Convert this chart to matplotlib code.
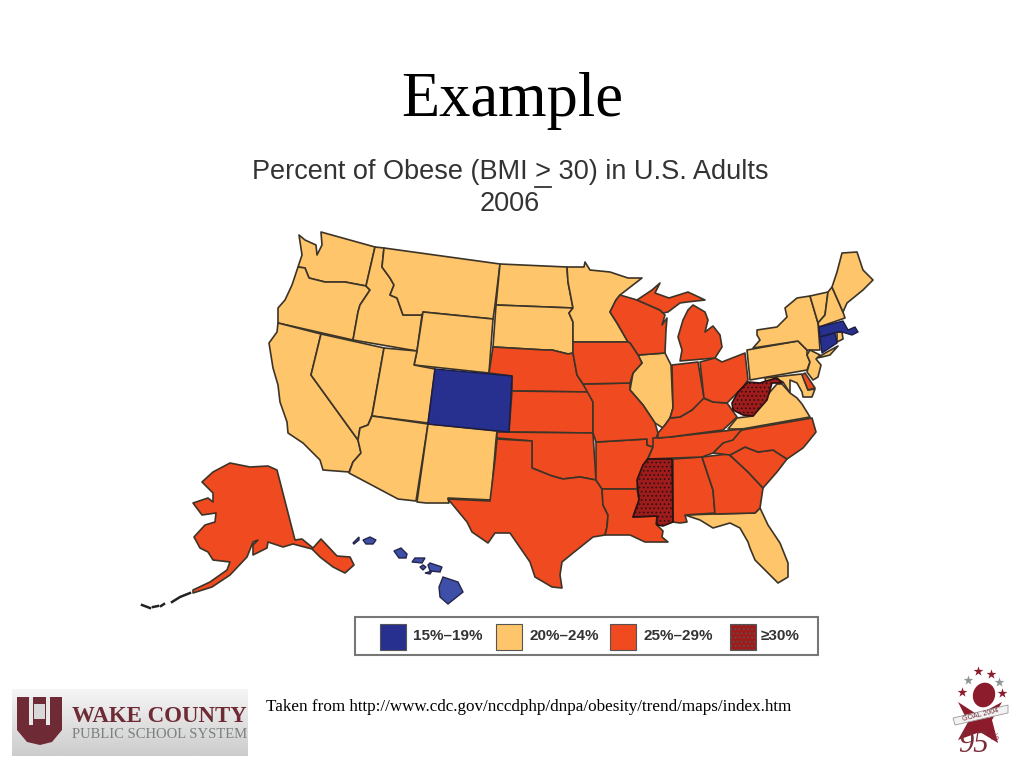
#!/usr/bin/env python3


import numpy as np
import matplotlib
matplotlib.use('Agg')
import matplotlib.pyplot as plt
from matplotlib.patches import Polygon, Rectangle, Ellipse

plt.rcParams['hatch.linewidth'] = 0.7

# state outlines
WA = [(299,235),(305,240),(316,245),(317,255),(322,245),(321,232),(375,247),(366,286),(345,282),(325,282),(309,278),(305,268),(298,267),(302,255)]
OR = [(298,267),(305,268),(309,278),(325,282),(345,282),(366,286),(370,290),(360,305),(358,312),(353,340),(278,323),(278,308),(285,300),(292,285)]
CA = [(278,323),(321,334),(311,375),(358,440),(361,453),(353,462),(349,472),(323,470),(320,460),(303,443),(288,433),(287,422),(280,402),(278,385),(273,368),(269,343),(277,332)]
NV = [(321,334),(384,348),(372,415),(368,425),(360,428),(358,440),(311,375)]
ID = [(375,247),(384,248),(382,267),(390,278),(394,285),(390,295),(397,298),(403,315),(422,315),(417,351),(353,340),(358,312),(360,305),(370,290),(366,286)]
MT = [(384,248),(500,264),(495,305),(493,319),(423,312),(422,315),(403,315),(397,298),(390,295),(394,285),(390,278),(382,267)]
WY = [(423,312),(493,319),(489,373),(414,365),(417,351)]
UT = [(384,348),(417,351),(414,365),(435,369),(428,423),(372,416)]
CO = [(435,369),(512,376),(509,432),(428,424)]
AZ = [(372,416),(428,424),(416,501),(398,499),(349,473),(353,462),(361,453),(358,440),(360,428),(368,425)]
NM = [(428,424),(497,431),(496,440),(491,500),(448,498),(449,503),(426,503),(417,502)]
ND = [(500,264),(567,267),(568,282),(573,308),(496,305)]
SD = [(496,305),(573,308),(569,313),(573,322),(573,353),(568,354),(552,350),(545,350),(493,347)]
MN = [(567,267),(584,267),(585,262),(590,270),(610,272),(628,278),(642,278),(620,295),(616,300),(610,312),(617,323),(628,342),(573,342),(573,322),(569,313),(573,308),(568,282)]
WI = [(620,295),(637,300),(660,310),(665,315),(662,325),(667,318),(666,330),(665,353),(638,355),(630,343),(628,342),(617,323),(610,312),(616,300)]
MI_UP = [(637,300),(652,290),(660,283),(655,293),(669,298),(688,292),(705,300),(687,302),(680,303),(668,312),(663,313),(660,310)]
MI_LP = [(693,305),(705,312),(708,320),(705,332),(713,326),(720,335),(722,347),(715,358),(680,361),(682,350),(678,337),(683,320),(688,310)]
IL = [(638,355),(665,353),(671,365),(673,408),(670,418),(663,428),(655,423),(643,405),(630,390),(633,373),(642,363)]
IA = [(573,342),(628,342),(630,343),(638,355),(642,363),(633,373),(630,383),(583,384),(577,375),(573,353)]
NE = [(493,347),(545,350),(552,350),(568,354),(573,353),(577,375),(583,384),(589,392),(512,391),(512,376),(489,373)]
KS = [(512,391),(589,392),(593,402),(593,433),(509,432)]
OK = [(497,432),(593,433),(596,480),(580,477),(563,479),(552,476),(532,468),(532,441),(497,438)]
TX = [(497,439),(532,441),(532,468),(552,476),(563,479),(580,477),(596,480),(602,489),(603,505),(608,515),(607,527),(605,535),(593,537),(573,553),(562,562),(560,575),(562,588),(552,587),(535,577),(530,562),(510,533),(495,533),(488,543),(472,532),(467,522),(448,499),(490,501),(495,460)]
AR = [(596,442),(647,439),(647,445),(653,447),(648,458),(643,465),(638,478),(637,489),(602,489),(596,480)]
MO = [(583,384),(630,383),(630,390),(643,405),(655,423),(658,433),(653,447),(647,445),(647,439),(596,442),(593,433),(593,402)]
LA = [(602,489),(637,489),(639,500),(633,517),(657,516),(656,524),(663,531),(662,537),(668,542),(662,542),(653,542),(645,542),(630,535),(620,535),(605,535),(607,527),(608,515),(603,505)]
MS = [(648,459),(672,459),(673,522),(663,526),(657,525),(657,516),(633,517),(639,500),(637,480),(643,465)]
AL = [(673,459),(702,457),(713,490),(715,513),(685,515),(687,522),(680,523),(673,522)]
GA = [(702,457),(728,454),(733,458),(748,472),(763,488),(760,508),(755,513),(715,514),(713,490)]
FL = [(685,515),(715,514),(755,513),(760,508),(768,525),(780,543),(788,563),(788,577),(778,583),(768,573),(755,560),(750,548),(748,542),(740,528),(730,523),(713,528),(700,520)]
SC = [(730,455),(745,447),(758,452),(773,450),(787,459),(777,472),(763,488),(748,472),(733,458)]
NC = [(742,430),(812,418),(816,432),(808,442),(803,448),(787,459),(773,450),(758,452),(745,447),(730,455),(713,453),(723,443)]
TN = [(653,438),(670,437),(742,429),(733,440),(723,443),(713,453),(702,457),(648,459),(653,447)]
KY = [(658,433),(665,425),(670,418),(680,417),(692,410),(703,398),(713,402),(727,403),(732,410),(737,417),(723,430),(670,437),(658,438)]
IN = [(672,365),(698,362),(704,398),(692,410),(680,417),(670,418),(673,408)]
OH = [(700,362),(715,358),(722,362),(745,353),(748,380),(743,387),(733,397),(727,403),(713,402),(704,398)]
PA = [(747,350),(798,341),(807,350),(807,355),(810,362),(807,370),(750,380)]
NY = [(757,330),(777,327),(787,317),(785,308),(797,298),(810,296),(818,323),(820,350),(807,350),(798,341),(753,348),(760,340),(757,335)]
LI = [(817,358),(827,352),(838,346),(830,355),(822,357)]
VT = [(810,296),(828,292),(825,315),(818,323)]
NH = [(828,292),(832,287),(843,312),(845,318),(819,327),(818,323),(825,315)]
ME = [(837,272),(842,253),(857,252),(863,270),(873,280),(863,290),(847,303),(843,312),(832,287)]
MA = [(819,327),(843,321),(848,330),(855,327),(858,332),(852,335),(842,332),(837,332),(820,337)]
CT = [(820,337),(835,333),(837,343),(822,353)]
RI = [(837,332),(842,332),(843,339),(837,342)]
NJ = [(810,350),(820,355),(816,359),(821,365),(818,377),(813,380),(807,372),(810,362),(807,355)]
DE = [(802,375),(805,373),(815,388),(808,390)]
MD = [(765,378),(802,374),(808,390),(815,389),(812,397),(803,397),(802,392),(797,383),(790,380),(790,393),(783,382),(775,378),(766,383)]
VA = [(728,429),(737,418),(753,416),(762,404),(770,392),(777,384),(782,384),(790,393),(797,398),(802,404),(810,417),(742,429)]
WV = [(748,382),(760,383),(763,382),(777,378),(782,383),(772,383),(767,400),(753,416),(743,415),(733,410),(732,403),(738,392)]
AK = [(230,463),(250,467),(268,466),(277,470),(295,540),(302,539),(313,548),(321,539),(337,556),(350,557),(354,565),(345,573),(333,567),(320,557),(312,549),(293,544),(283,547),(268,542),(267,548),(253,555),(253,545),(258,540),(253,542),(247,557),(230,575),(212,587),(193,593),(193,590),(210,582),(227,570),(230,562),(213,560),(208,552),(200,548),(194,537),(205,525),(215,522),(216,513),(202,515),(193,503),(208,498),(213,502),(213,493),(202,482),(213,472)]
HI_big = [(443,577),(458,582),(463,592),(448,604),(440,597),(439,587)]
HI_maui = [(428,565),(430,563),(442,567),(440,572),(430,571)]
HI_lanai = [(420,567),(423,565),(426,567),(423,570)]
HI_kaho = [(425,573),(432,571),(430,574)]
HI_molokai = [(412,562),(415,558),(425,558),(422,563)]
HI_oahu = [(394,551),(401,548),(407,554),(406,558),(399,558)]
HI_kauai = [(363,540),(370,537),(376,540),(373,544),(366,544)]
HI_niihau = [(353,543),(359,537),(359,540),(354,544)]
aleutians = [[(172,602),(180,597),(190,593)], [(142,605),(150,608)], [(153,607),(158,606)], [(161,606),(164,604)]]

# obesity class of each state
class_15_19 = [CO, MA, CT]
class_20_24 = [WA, OR, CA, NV, ID, MT, WY, UT, AZ, NM, ND, SD, MN, IL, PA, NY, LI, VT, NH, ME, RI, NJ, MD, VA, FL]
class_25_29 = [NE, KS, OK, TX, AR, MO, LA, AL, GA, SC, NC, TN, KY, IN, OH, WI, MI_UP, MI_LP, IA, DE, AK]
class_30_up = [MS, WV]
hawaii = [HI_big, HI_maui, HI_lanai, HI_kaho, HI_molokai, HI_oahu, HI_kauai, HI_niihau]

legend_labels = ['15%–19%', '20%–24%', '25%–29%', '≥30%']
logo_shield = [(17,697),(62,697),(62,730),(52,742),(40,745),(27,742),(17,730)]
big_star = [(958,702),(978,715),(1002,702),(992,720),(998,743),(980,732),(958,740),(968,722)]
ribbon = [(953,718),(1008,705),(1008,713),(955,725)]
grey_stars = [(968,680),(999,682)]
red_stars = [(978,671),(991,674),(962,692),(1002,693)]

blue = '#28308f'
orange = '#ffc56b'
red = '#f04a20'
dark = '#a01c1c'
edge = '#3d3428'
maroon = '#6e2b35'

fig = plt.figure(figsize=(10.24, 7.68), dpi=100)
ax = fig.add_axes([0, 0, 1, 1])
ax.set_xlim(0, 1024)
ax.set_ylim(768, 0)
ax.axis('off')

ax.text(512, 101, 'Example', family='Liberation Serif', fontsize=45, ha='center', va='center', color='black')
ax.text(510, 172, 'Percent of Obese (BMI > 30) in U.S. Adults', family='Liberation Sans', fontsize=19.5,
        ha='center', va='center', color='#333333')
ax.plot([535, 551], [187, 187], c='#333333', lw=1.3)
ax.text(510, 204, '2006', family='Liberation Sans', fontsize=19.5, ha='center', va='center', color='#333333')

for shape in class_20_24:
    ax.add_patch(Polygon(shape, fc=orange, ec=edge, lw=1.2, joinstyle='round'))
for shape in class_25_29:
    ax.add_patch(Polygon(shape, fc=red, ec=edge, lw=1.2, joinstyle='round'))
for shape in class_15_19:
    ax.add_patch(Polygon(shape, fc=blue, ec='#1c1c40', lw=1.0, joinstyle='round'))
for shape in class_30_up:
    ax.add_patch(Polygon(shape, fc=dark, ec='#2a1010', lw=1.2, hatch='....', joinstyle='round'))
for shape in hawaii:
    ax.add_patch(Polygon(shape, fc='#3e4fa8', ec='#26264a', lw=1.0))
for seg in aleutians:
    seg = np.array(seg)
    ax.plot(seg[:,0], seg[:,1], c='#222222', lw=1.8)

# legend
ax.add_patch(Rectangle((355, 617), 463, 38, fc='white', ec='#777777', lw=1.5))
box_x = [380, 496, 610, 730]
text_x = [413, 530, 643, 761]
box_c = [blue, orange, red, dark]
for bx, tx, c, lab in zip(box_x, text_x, box_c, legend_labels):
    hatch = '....' if c == dark else None
    ax.add_patch(Rectangle((bx, 624), 26, 26, fc=c, ec='#555555', lw=0.8, hatch=hatch))
    ax.text(tx, 636, lab, family='Liberation Sans', fontweight='bold', fontsize=11, va='center', color='#333333')

ax.text(266, 707, 'Taken from http://www.cdc.gov/nccdphp/dnpa/obesity/trend/maps/index.htm',
        family='Liberation Serif', fontsize=12.25, va='center', color='black')

# school system logo
grad = np.linspace(0.96, 0.80, 64).reshape(-1, 1)
ax.imshow(grad, extent=(12, 248, 756, 689), cmap='gray', vmin=0, vmax=1, aspect='auto', zorder=1)
ax.set_xlim(0, 1024)
ax.set_ylim(768, 0)
ax.add_patch(Polygon(logo_shield, fc=maroon, ec='none', zorder=2))
ax.add_patch(Rectangle((29, 697), 4, 28, fc='#e8e8e8', ec='none', zorder=3))
ax.add_patch(Rectangle((46, 697), 4, 28, fc='#e8e8e8', ec='none', zorder=3))
ax.add_patch(Rectangle((34, 704), 11, 15, fc='#d8d8d8', ec='none', zorder=3))
ax.text(72, 717, 'WAKE COUNTY', family='Liberation Serif', fontweight='bold', fontsize=16.5, va='center',
        color=maroon, zorder=3)
ax.text(72, 735, 'PUBLIC SCHOOL SYSTEM', family='Liberation Serif', fontsize=10.5, va='center',
        color='#7a7f80', zorder=3)

# goal 95 logo
ax.add_patch(Polygon(big_star, fc='#8c1c2c', ec='none'))
ax.add_patch(Ellipse((984, 695), 22, 25, angle=20, fc='#8c1c2c', ec='none'))
ax.add_patch(Polygon(ribbon, fc='#f2f2f2', ec='#999999', lw=0.6))
ax.text(981, 715, 'GOAL 2004', family='Liberation Sans', fontsize=5, rotation=14, ha='center', va='center', color='#6e2b35')
for x, y in red_stars:
    ax.scatter(x, y, marker='*', s=55, c='#8c1c2c', lw=0)
for x, y in grey_stars:
    ax.scatter(x, y, marker='*', s=55, c='#8f9596', lw=0)
ax.text(973, 745, '95', family='Liberation Serif', style='italic', fontsize=22, ha='center', va='center', color='#7d2a36')
ax.text(994, 738, '%', family='Liberation Serif', style='italic', fontsize=8, ha='center', va='center', color='#7d2a36')

fig.savefig('out.png', dpi=100)
